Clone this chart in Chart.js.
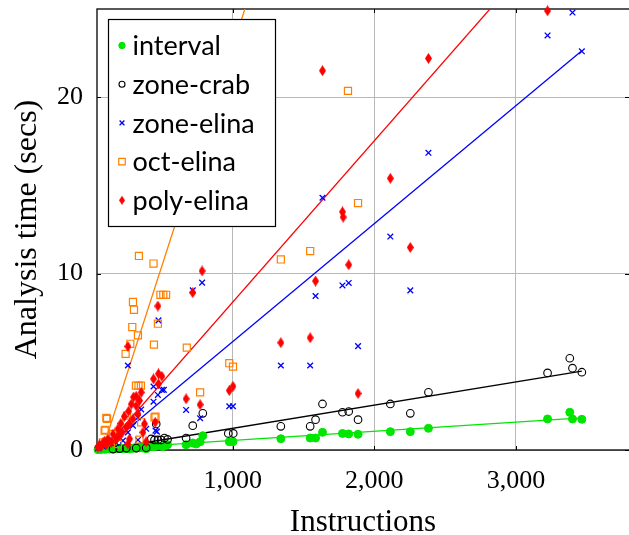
<!DOCTYPE html>
<html>
<head>
<meta charset="utf-8">
<script src="https://cdn.jsdelivr.net/npm/chart.js@4/dist/chart.umd.min.js"></script>
<style>
  html, body { margin: 0; padding: 0; background: #fff; overflow: hidden; }
  canvas { display: block; }
</style>
</head>
<body>
<canvas id="chart" width="629" height="535"></canvas>
<script>
// Series names, in legend order
const seriesNames = ['interval', 'zone-crab', 'zone-elina', 'oct-elina', 'poly-elina'];

// interval
const intervalX = [49, 72, 96, 108, 131, 155, 178, 201, 225, 249, 272, 296, 319, 342, 366, 389, 425, 448, 472, 507, 540,
  671, 718, 742, 770, 789, 976, 1002, 1340, 1547, 1585, 1634, 1775, 1819, 1885, 2113, 2254, 2382, 3223, 3380, 3399, 3465];
const intervalY = [0.02, 0.03, 0.04, 0.05, 0.05, 0.06, 0.07, 0.08, 0.08, 0.09, 0.06, 0.1, 0.11, 0.12, 0.12, 0.07, 0.2, 0.19, 0.25, 0.19, 0.3,
  0.3, 0.4, 0.34, 0.47, 0.81, 0.47, 0.47, 0.64, 0.68, 0.68, 1.0, 0.94, 0.91, 0.89, 1.04, 1.04, 1.23, 1.76, 2.14, 1.76, 1.74];

// zone-crab
const crabX = [155, 201, 249, 319, 389, 425, 448, 460, 472, 495, 518, 540, 671, 718, 789, 969, 1004,
  1340, 1547, 1585, 1634, 1775, 1819, 1885, 2113, 2254, 2382, 3223, 3380, 3399, 3465];
const crabY = [0.05, 0.08, 0.11, 0.11, 0.13, 0.63, 0.57, 1.48, 0.57, 0.57, 0.68, 0.6, 0.68, 1.38, 2.08, 0.94, 0.94,
  1.34, 1.34, 1.72, 2.61, 2.14, 2.18, 1.72, 2.61, 2.08, 3.27, 4.37, 5.2, 4.64, 4.41];

// zone-elina
const zoneElinaX = [49, 84, 131, 178, 225, 260, 260, 296, 331, 331, 354, 389, 441, 441, 455, 465, 472, 476, 500, 514,
  671, 718, 770, 784, 976, 1002, 1340, 1547, 1585, 1634, 1775, 1819, 1885, 2113, 2254, 2382, 3223, 3399, 3465];
const zoneElinaY = [0.1, 0.2, 0.57, 0.4, 0.53, 1.0, 4.79, 1.38, 1.85, 0.57, 2.3, 1.2, 2.74, 3.6, 1.1, 1.04, 3.12, 7.35, 3.41, 3.41,
  2.27, 9.05, 1.8, 9.49, 2.48, 2.48, 4.79, 4.79, 8.73, 14.3, 9.33, 9.47, 5.89, 12.1, 9.05, 16.85, 23.5, 24.8, 22.6];

// oct-elina
const octX = [84, 96, 101, 108, 113, 155, 190, 244, 249, 254, 277, 291, 296, 303, 317, 331, 335, 338, 342, 352, 354,
  441, 444, 448, 455, 472, 490, 510, 530, 676, 770, 976, 1002, 1340, 1547, 1814, 1885];
const octY = [0.43, 1.1, 1.14, 1.82, 1.76, 0.91, 0.34, 5.45, 1.66, 1.95, 6.02, 6.97, 8.39, 7.95, 3.65, 6.5, 3.65, 11.0, 0.59, 3.65, 1.57,
  10.57, 5.97, 1.85, 1.89, 7.16, 8.8, 8.8, 8.8, 5.8, 3.27, 4.92, 4.73, 10.8, 11.28, 20.36, 14.0];

// poly-elina
const polyX = [49, 60, 72, 84, 96, 108, 120, 143, 155, 178, 190, 201, 210, 220, 235, 249, 260, 260, 265, 272, 272, 284,
  296, 300, 319, 319, 331, 342, 354, 366, 377, 389, 441, 453, 472, 476, 476, 500, 671, 718, 770, 784, 976, 1002,
  1340, 1547, 1585, 1634, 1775, 1780, 1819, 1885, 2113, 2254, 2382, 3223];
const polyY = [0.15, 0.3, 0.19, 0.4, 0.5, 0.3, 0.6, 0.43, 0.9, 0.63, 1.2, 0.81, 1.5, 1.0, 1.9, 1.28, 0.34, 5.87, 2.2, 1.48, 0.63, 2.6,
  1.76, 3.0, 2.5, 3.05, 2.05, 2.8, 3.27, 1.0, 1.48, 0.47, 4.03, 1.57, 8.16, 3.75, 4.32, 4.18, 2.9, 8.92, 2.57, 10.15, 3.37, 3.61,
  6.08, 6.36, 9.58, 21.5, 13.5, 13.2, 10.5, 3.2, 15.4, 11.48, 22.2, 24.9];

// Trend lines: [start, end] in data units
const intervalFitX = [49, 3465];
const intervalFitY = [0.055, 1.82];
const crabFitX = [249, 3465];
const crabFitY = [0.24, 4.47];
const zoneElinaFitX = [49, 3465];
const zoneElinaFitY = [-0.22, 22.63];
const octFitX = [49, 1110];
const octFitY = [-0.78, 25.6];
const polyFitX = [49, 3223];
const polyFitY = [-0.32, 28.72];

// Axis ticks
const xTickValues = [1000, 2000, 3000];
const yTickValues = [0, 10, 20];

const GREEN = '#00e600';
const BLACK = '#000000';
const BLUE = '#0000ff';
const ORANGE = '#ff8000';
const RED = '#ff0000';

function toPoints(xs, ys) {
  return xs.map((x, i) => ({ x, y: ys[i] }));
}

function makeDiamond(w, h, color) {
  const c = document.createElement('canvas');
  c.width = w;
  c.height = h;
  const g = c.getContext('2d');
  g.fillStyle = color;
  g.beginPath();
  g.moveTo(w / 2, 0);
  g.lineTo(w, h / 2);
  g.lineTo(w / 2, h);
  g.lineTo(0, h / 2);
  g.closePath();
  g.fill();
  return c;
}

const diamond = makeDiamond(7, 11, RED);
const smallDiamond = makeDiamond(6, 9, RED);

function scatterSet(label, xs, ys, style, order) {
  return Object.assign({
    type: 'scatter',
    label,
    data: toPoints(xs, ys),
    order,
    clip: false
  }, style);
}

function fitSet(xs, ys, color) {
  return {
    type: 'line',
    label: '',
    data: toPoints(xs, ys),
    borderColor: color,
    borderWidth: 1.3,
    pointRadius: 0,
    fill: false,
    order: 10
  };
}

const markerStyles = [
  { pointStyle: 'circle', radius: 4, backgroundColor: GREEN, borderColor: GREEN, borderWidth: 1 },
  { pointStyle: 'circle', radius: 3.8, backgroundColor: 'rgba(0,0,0,0)', borderColor: BLACK, borderWidth: 1.1 },
  { pointStyle: 'crossRot', radius: 4, backgroundColor: BLUE, borderColor: BLUE, borderWidth: 1.3 },
  { pointStyle: 'rect', radius: 5, backgroundColor: 'rgba(0,0,0,0)', borderColor: ORANGE, borderWidth: 1.2 },
  { pointStyle: diamond, radius: 5, backgroundColor: RED, borderColor: RED, borderWidth: 0 }
];
const legendMarkers = [
  { pointStyle: 'circle', radius: 3.2 },
  { pointStyle: 'circle', radius: 3 },
  { pointStyle: 'crossRot', radius: 3.4 },
  { pointStyle: 'rect', radius: 4.6 },
  { pointStyle: smallDiamond, radius: 4 }
];

const datasets = [
  scatterSet(seriesNames[0], intervalX, intervalY, markerStyles[0], 5),
  scatterSet(seriesNames[1], crabX, crabY, markerStyles[1], 4),
  scatterSet(seriesNames[2], zoneElinaX, zoneElinaY, markerStyles[2], 3),
  scatterSet(seriesNames[3], octX, octY, markerStyles[3], 2),
  scatterSet(seriesNames[4], polyX, polyY, markerStyles[4], 1),
  fitSet(intervalFitX, intervalFitY, GREEN),
  fitSet(crabFitX, crabFitY, BLACK),
  fitSet(zoneElinaFitX, zoneElinaFitY, BLUE),
  fitSet(octFitX, octFitY, ORANGE),
  fitSet(polyFitX, polyFitY, RED)
];
datasets.slice(0, 5).forEach((ds, i) => {
  ds.pointRadius = markerStyles[i].radius;
  ds.pointHoverRadius = markerStyles[i].radius;
});

// Black frame around the plot (right side sits just past the canvas edge) with small inward ticks
const framePlugin = {
  id: 'frame',
  beforeDatasetsDraw(chart) {
    const { ctx, chartArea: a, scales } = chart;
    const right = a.right + 2;
    ctx.save();
    ctx.strokeStyle = '#000';
    ctx.lineWidth = 1.3;
    ctx.strokeRect(a.left, a.top, right - a.left, a.bottom - a.top);
    ctx.lineWidth = 1;
    ctx.beginPath();
    scales.x.ticks.forEach(t => {
      const px = Math.round(scales.x.getPixelForValue(t.value)) + 0.5;
      ctx.moveTo(px, a.bottom); ctx.lineTo(px, a.bottom - 4);
      ctx.moveTo(px, a.top); ctx.lineTo(px, a.top + 4);
    });
    scales.y.ticks.forEach(t => {
      const py = Math.round(scales.y.getPixelForValue(t.value)) + 0.5;
      ctx.moveTo(a.left, py); ctx.lineTo(a.left + 4, py);
      ctx.moveTo(a.right, py); ctx.lineTo(a.right - 4, py);
    });
    ctx.stroke();
    ctx.restore();
  }
};

// Legend boxed inside the plot, top left
const insideLegend = {
  id: 'insideLegend',
  afterDraw(chart) {
    const { ctx, chartArea: a } = chart;
    const x0 = Math.round(a.left + 11) + 0.5;
    const y0 = Math.round(a.top + 10) + 0.5;
    const w = 167;
    const h = 207;
    ctx.save();
    ctx.fillStyle = '#fff';
    ctx.fillRect(x0, y0, w, h);
    ctx.strokeStyle = '#000';
    ctx.lineWidth = 1.2;
    ctx.strokeRect(x0, y0, w, h);
    ctx.font = '27px Lato';
    ctx.textBaseline = 'middle';
    seriesNames.forEach((name, i) => {
      const ds = chart.data.datasets[i];
      const y = y0 + 26 + i * 38.7;
      ctx.fillStyle = ds.backgroundColor;
      ctx.strokeStyle = ds.borderColor;
      ctx.lineWidth = ds.borderWidth;
      Chart.helpers.drawPoint(ctx, {
        pointStyle: legendMarkers[i].pointStyle,
        radius: legendMarkers[i].radius,
        rotation: 0,
        borderWidth: ds.borderWidth
      }, x0 + 13.5, y);
      ctx.fillStyle = '#000';
      ctx.fillText(name, x0 + 24, y + 1);
    });
    ctx.restore();
  }
};

new Chart(document.getElementById('chart'), {
  data: { datasets },
  options: {
    responsive: false,
    animation: false,
    devicePixelRatio: 1,
    layout: { autoPadding: false, padding: { top: 9, right: 0, bottom: 0, left: 0 } },
    plugins: {
      legend: { display: false },
      tooltip: { enabled: false }
    },
    scales: {
      x: {
        type: 'linear',
        min: 42,
        max: 3798,
        afterBuildTicks: scale => {
          scale.ticks = xTickValues.map(v => ({ value: v }));
        },
        afterFit: scale => {
          scale.height = 85;
          scale.paddingLeft = 0;
          scale.paddingRight = 0;
        },
        grid: { color: '#b8b8b8', lineWidth: 1, drawTicks: false },
        border: { display: false },
        ticks: {
          padding: 16,
          color: '#000',
          font: { family: 'Liberation Serif', size: 26 },
          callback: v => v.toLocaleString('en-US')
        },
        title: {
          display: true,
          text: 'Instructions',
          color: '#000',
          font: { family: 'Liberation Serif', size: 31, lineHeight: 0.8 },
          padding: { top: 0, bottom: 0 }
        }
      },
      y: {
        type: 'linear',
        min: 0,
        max: 25,
        afterBuildTicks: scale => {
          scale.ticks = yTickValues.map(v => ({ value: v }));
        },
        afterFit: scale => {
          scale.width = 97;
          scale.paddingTop = 0;
          scale.paddingBottom = 0;
        },
        grid: { color: '#b8b8b8', lineWidth: 1, drawTicks: false },
        border: { display: false },
        ticks: {
          padding: 14,
          color: '#000',
          font: { family: 'Liberation Serif', size: 26 }
        },
        title: {
          display: true,
          text: 'Analysis time (secs)',
          color: '#000',
          font: { family: 'Liberation Serif', size: 32, lineHeight: 0.85 },
          padding: { top: 14, bottom: 0 }
        }
      }
    }
  },
  plugins: [framePlugin, insideLegend]
});
</script>
</body>
</html>
